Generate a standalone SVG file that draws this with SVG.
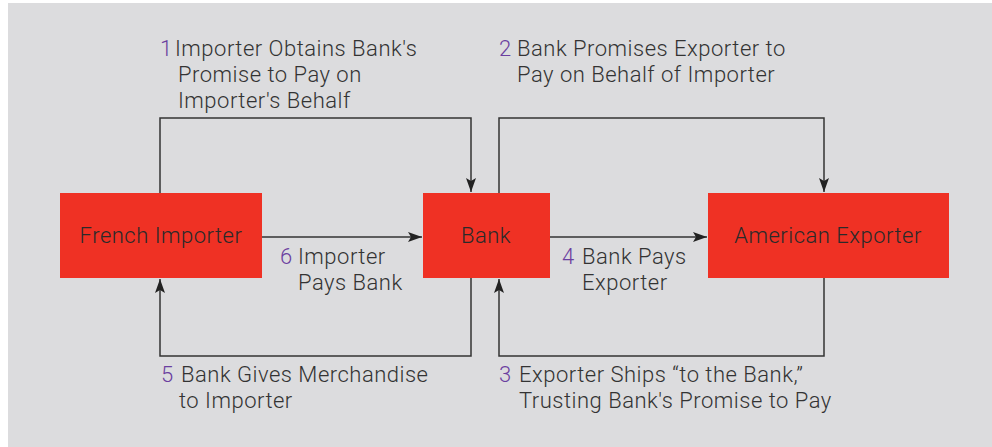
<svg xmlns="http://www.w3.org/2000/svg" width="992" height="447" viewBox="0 0 992 447">
<style>
.bg{fill:#dcdcde}
.node{fill:#ef3124}
.nl{font-family:Roboto,"Open Sans","Liberation Sans",sans-serif;font-size:22px;font-weight:300;letter-spacing:0.5px;fill:#2a2a2a;text-anchor:middle}
.lbl{font-family:Roboto,"Open Sans","Liberation Sans",sans-serif;font-size:22px;font-weight:300;letter-spacing:0.5px;fill:#333}
.num{fill:#6b3fa0}
.con{fill:none;stroke:#333;stroke-width:1.5}
</style>
<defs>
<marker id="ah" viewBox="0 0 14 10" refX="14" refY="5" markerWidth="14" markerHeight="10" markerUnits="userSpaceOnUse" orient="auto">
<path d="M0,0 L14,5 L0,10 L3,5 Z" fill="#222"/>
</marker>
</defs>
<rect class="bg" x="8" y="3" width="984" height="444"/>
<g id="connectors">
<path class="con" d="M160,193 V118 H471 V192" marker-end="url(#ah)"/>
<path class="con" d="M499,193 V118 H824 V192" marker-end="url(#ah)"/>
<path class="con" d="M262,237 H422" marker-end="url(#ah)"/>
<path class="con" d="M550,237 H707" marker-end="url(#ah)"/>
<path class="con" d="M471,278 V356 H160 V279" marker-end="url(#ah)"/>
<path class="con" d="M824,278 V356 H499 V279" marker-end="url(#ah)"/>
</g>
<g id="french-importer">
<rect class="node" x="60" y="193" width="202" height="85"/>
<text class="nl" x="161" y="243">French Importer</text>
</g>
<g id="bank">
<rect class="node" x="423" y="193" width="127" height="85"/>
<text class="nl" x="486" y="243">Bank</text>
</g>
<g id="american-exporter">
<rect class="node" x="708" y="193" width="241" height="85"/>
<text class="nl" x="828" y="243">American Exporter</text>
</g>
<g id="labels">
<text class="lbl" x="160" y="56"><tspan class="num">1</tspan><tspan x="175">Importer Obtains Bank's</tspan></text>
<text class="lbl" x="178" y="82">Promise to Pay on</text>
<text class="lbl" x="178" y="108">Importer's Behalf</text>
<text class="lbl" x="499" y="56"><tspan class="num">2</tspan><tspan x="517">Bank Promises Exporter to</tspan></text>
<text class="lbl" x="517" y="82">Pay on Behalf of Importer</text>
<text class="lbl" x="280" y="264"><tspan class="num">6</tspan><tspan x="298">Importer</tspan></text>
<text class="lbl" x="298" y="290">Pays Bank</text>
<text class="lbl" x="562" y="264"><tspan class="num">4</tspan><tspan x="582">Bank Pays</tspan></text>
<text class="lbl" x="582" y="290">Exporter</text>
<text class="lbl" x="161" y="382"><tspan class="num">5</tspan><tspan x="181">Bank Gives Merchandise</tspan></text>
<text class="lbl" x="179" y="408">to Importer</text>
<text class="lbl" x="499" y="382"><tspan class="num">3</tspan><tspan x="519">Exporter Ships “to the Bank,”</tspan></text>
<text class="lbl" x="519" y="408">Trusting Bank's Promise to Pay</text>
</g>
</svg>
